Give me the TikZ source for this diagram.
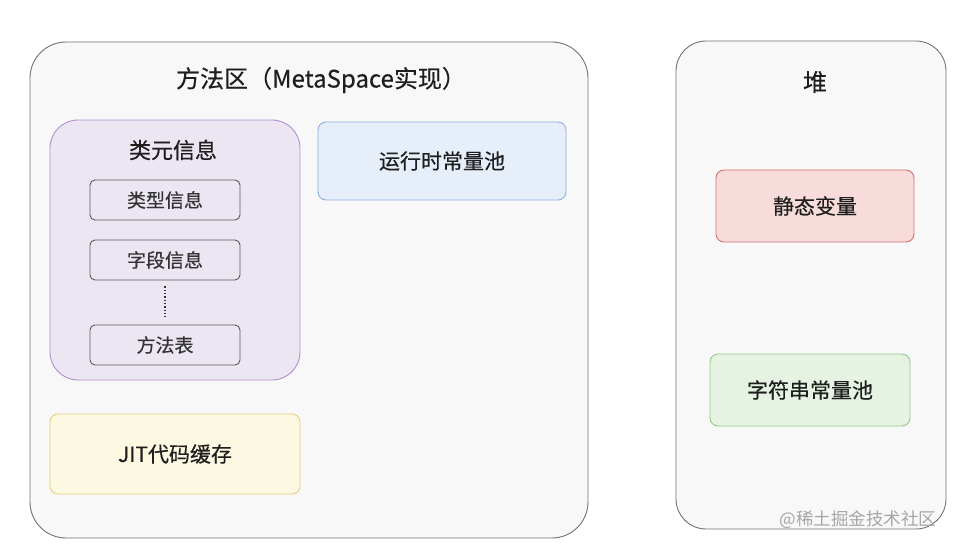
\documentclass[tikz,border=0pt]{standalone}
\usepackage{fontspec}
\usetikzlibrary{calc}
\setmainfont{Noto Sans CJK SC}
\newfontfamily\medfont{Noto Sans CJK SC}[FakeBold=0.35]
\definecolor{purpleS}{HTML}{B28FCE}
\definecolor{purpleF}{HTML}{ECE6F2}
\definecolor{blueS}{HTML}{8EB0E0}
\definecolor{blueF}{HTML}{E5EEF9}
\definecolor{yellowS}{HTML}{E6CD7E}
\definecolor{yellowF}{HTML}{FDF8E2}
\definecolor{redS}{HTML}{D27070}
\definecolor{redF}{HTML}{F8DCDC}
\definecolor{greenS}{HTML}{96C98B}
\definecolor{greenF}{HTML}{E6F3E2}
\definecolor{greyF}{HTML}{F8F8F8}
\definecolor{txt}{HTML}{1E1E1E}
\begin{document}
\begin{tikzpicture}[x=1pt,y=-1pt,
  region/.style={draw=black!55, line width=0.9pt, fill=greyF, rounded corners=36pt, inner sep=0pt},
  group/.style={draw=purpleS, line width=0.9pt, fill=purpleF, rounded corners=28pt, inner sep=0pt},
  item/.style={draw=black!65, line width=0.9pt, rounded corners=5pt, minimum width=150pt, minimum height=40pt, inner sep=0pt, font=\medfont\fontsize{19}{22}\selectfont, text=black!80},
  colbox/.style={line width=0.9pt, rounded corners=8pt, inner sep=0pt, font=\medfont\fontsize{21}{24}\selectfont, text=txt},
  title/.style={font=\medfont\fontsize{24}{28}\selectfont, text=txt}
]
\useasboundingbox (0,0) rectangle (956,548);
\fill[white] (0,0) rectangle (956,548);

% method area
\node[region, minimum width=558pt, minimum height=496pt] (ma) at (309,290) {};
\node[title] (matitle) at (321,80) {方法区（MetaSpace实现）};

% class meta info group
\node[group, minimum width=250pt, minimum height=260pt] (cm) at (175,250) {};
\node[title, font=\medfont\fontsize{22}{26}\selectfont] (cmtitle) at (173,150) {类元信息};
\node[item] (t1) at (165,200) {类型信息};
\node[item] (t2) at (165,260) {字段信息};
\node[item] (t3) at (165,345) {方法表};
\coordinate (d1) at ($(t2.south)+(0,6)$);
\coordinate (d2) at ($(t3.north)+(0,-7)$);
\draw[black!80, line width=1.3pt, dotted] (d1) -- (d2);

% runtime constant pool
\node[colbox, draw=blueS, fill=blueF, minimum width=248pt, minimum height=78pt] (rcp) at (442,161) {运行时常量池};

% JIT
\node[colbox, draw=yellowS, fill=yellowF, minimum width=250pt, minimum height=80pt] (jit) at (175,454) {JIT代码缓存};

% heap
\node[region, rounded corners=30pt, minimum width=270pt, minimum height=488pt] (heap) at (811,285) {};
\node[title] (heaptitle) at (815,82) {堆};
\node[colbox, draw=redS, fill=redF, minimum width=198pt, minimum height=72pt] (sv) at (815,206) {静态变量};
\node[colbox, draw=greenS, fill=greenF, minimum width=200pt, minimum height=72pt] (scp) at (810,390) {字符串常量池};

% watermark
\node[anchor=east, font=\fontsize{17.5}{20}\selectfont, text=black!35] (wm) at (940,520) {@稀土掘金技术社区};
\end{tikzpicture}
\end{document}
